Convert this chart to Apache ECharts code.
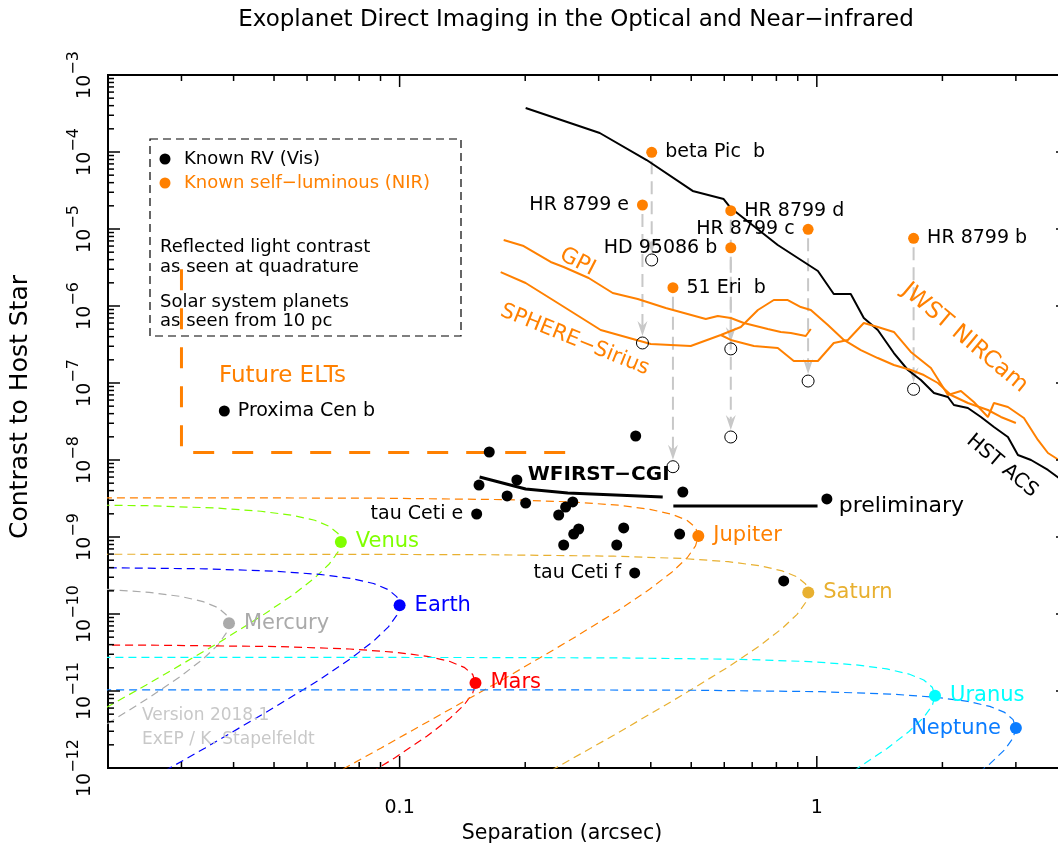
<!DOCTYPE html>
<html><head><meta charset="utf-8">
<script src="https://cdn.jsdelivr.net/npm/echarts@6/dist/echarts.min.js"></script>
<style>html,body{margin:0;padding:0;background:#fff;overflow:hidden}#c{width:1080px;height:852px}</style>
</head><body><div id="c"></div>
<script>
// ---------------- DATA ----------------
const xMajorTicks = [0.1, 1];
const yMajorTicks = [1e-12,1e-11,1e-10,1e-9,1e-8,1e-7,1e-6,1e-5,1e-4,1e-3];

// Known RV planets (reflected light, visible): [separation arcsec, contrast, name]
const knownRV = [
  [0.368,2.05e-8,''],[0.164,1.27e-8,''],[0.155,4.73e-9,''],[0.191,5.50e-9,''],
  [0.181,3.41e-9,''],[0.2005,2.76e-9,''],[0.153,1.99e-9,'tau Ceti e'],[0.260,2.85e-9,''],
  [0.250,2.45e-9,''],[0.2406,1.93e-9,''],[0.2687,1.27e-9,''],[0.2614,1.09e-9,''],
  [0.2473,7.87e-10,''],[0.3444,1.31e-9,''],[0.3315,7.87e-10,''],[0.4773,3.84e-9,''],
  [1.057,3.12e-9,''],[0.469,1.09e-9,''],[0.366,3.41e-10,'tau Ceti f'],[0.833,2.69e-10,''],
  [0.038,4.33e-8,'Proxima Cen b']
];

// Known self-luminous planets (NIR)
const selfLumNames = ['beta Pic  b','HR 8799 e','HR 8799 d','HR 8799 c','HD 95086 b','51 Eri  b','HR 8799 b'];
const selfLumSep   = [0.402, 0.382, 0.622, 0.953, 0.622, 0.452, 1.706];
const selfLumNIR   = [9.9e-5, 2.05e-5, 1.73e-5, 9.9e-6, 5.71e-6, 1.73e-6, 7.57e-6];
const selfLumRefl  = [3.96e-6, 3.31e-7, 2.77e-7, 1.06e-7, 1.99e-8, 8.18e-9, 8.28e-8];

// Solar system planets at quadrature, seen from 10 pc
const planetNames    = ['Mercury','Venus','Earth','Mars','Jupiter','Saturn','Uranus','Neptune'];
const planetSep      = [0.039, 0.0723, 0.1, 0.152, 0.52, 0.954, 1.92, 3.0];
const planetContrast = [7.6e-11, 8.6e-10, 1.3e-10, 1.27e-11, 1.03e-9, 1.9e-10, 8.7e-12, 3.3e-12];

// Orbital contrast tracks (separation, contrast)
const mercuryCurve = [[0.00677,2.35e-10],[0.0133,2.25e-10],[0.0195,2.10e-10],[0.0251,1.91e-10],[0.0299,1.69e-10],[0.0338,1.45e-10],[0.0367,1.21e-10],[0.0384,9.8e-11],[0.039,7.6e-11],[0.0384,5.64e-11],[0.0367,3.97e-11],[0.0338,2.60e-11],[0.0299,1.56e-11],[0.0251,8.2e-12],[0.0195,3.5e-12],[0.0133,1.06e-12]];
const venusCurve = [[0.01255,2.66e-9],[0.0247,2.55e-9],[0.0362,2.38e-9],[0.0465,2.16e-9],[0.0554,1.91e-9],[0.0626,1.65e-9],[0.0679,1.37e-9],[0.0712,1.11e-9],[0.0723,8.6e-10],[0.0712,6.4e-10],[0.0679,4.5e-10],[0.0626,2.94e-10],[0.0554,1.76e-10],[0.0465,9.3e-11],[0.0362,4.0e-11],[0.0247,1.2e-11],[0.01255,1.5e-12]];
const earthCurve = [[0.0174,4.02e-10],[0.0342,3.86e-10],[0.05,3.60e-10],[0.0643,3.27e-10],[0.0766,2.89e-10],[0.0866,2.49e-10],[0.094,2.07e-10],[0.0985,1.67e-10],[0.1,1.3e-10],[0.0985,9.65e-11],[0.094,6.8e-11],[0.0866,4.45e-11],[0.0766,2.67e-11],[0.0643,1.40e-11],[0.05,6.1e-12],[0.0342,1.82e-12],[0.0174,2.3e-13]];
const marsCurve = [[0.0133,3.97e-11],[0.0264,3.93e-11],[0.052,3.77e-11],[0.076,3.51e-11],[0.0977,3.19e-11],[0.1164,2.82e-11],[0.1316,2.43e-11],[0.1428,2.03e-11],[0.1497,1.64e-11],[0.152,1.27e-11],[0.1497,9.4e-12],[0.1428,6.6e-12],[0.1316,4.35e-12],[0.1164,2.6e-12],[0.0977,1.37e-12],[0.076,5.9e-13]];
const jupiterCurve = [[0.0182,3.23e-9],[0.0453,3.22e-9],[0.0903,3.19e-9],[0.178,3.06e-9],[0.26,2.85e-9],[0.334,2.59e-9],[0.398,2.29e-9],[0.450,1.97e-9],[0.489,1.64e-9],[0.512,1.33e-9],[0.52,1.03e-9],[0.512,7.65e-10],[0.489,5.38e-10],[0.450,3.52e-10],[0.398,2.11e-10],[0.334,1.11e-10],[0.26,4.8e-11],[0.178,1.44e-11],[0.0903,1.82e-12],[0.0453,2.3e-13]];
const saturnCurve = [[0.0167,5.97e-10],[0.0832,5.95e-10],[0.166,5.88e-10],[0.326,5.64e-10],[0.477,5.26e-10],[0.613,4.78e-10],[0.731,4.23e-10],[0.826,3.63e-10],[0.897,3.03e-10],[0.940,2.45e-10],[0.954,1.9e-10],[0.940,1.41e-10],[0.897,9.9e-11],[0.826,6.5e-11],[0.731,3.9e-11],[0.613,2.05e-11],[0.477,8.9e-12],[0.326,2.66e-12],[0.166,3.4e-13]];
const uranusCurve = [[0.0168,2.73e-11],[0.067,2.73e-11],[0.167,2.72e-11],[0.333,2.69e-11],[0.657,2.58e-11],[0.96,2.41e-11],[1.234,2.19e-11],[1.471,1.94e-11],[1.663,1.66e-11],[1.804,1.39e-11],[1.891,1.12e-11],[1.92,8.7e-12],[1.891,6.46e-12],[1.804,4.54e-12],[1.663,2.98e-12],[1.471,1.78e-12],[1.234,9.4e-13],[0.96,4.05e-13]];
const neptuneCurve = [[0.0157,1.037e-11],[0.105,1.036e-11],[0.262,1.033e-11],[0.521,1.022e-11],[1.026,9.79e-12],[1.5,9.13e-12],[1.928,8.30e-12],[2.298,7.34e-12],[2.598,6.31e-12],[2.819,5.27e-12],[2.954,4.25e-12],[3.0,3.3e-12],[2.954,2.45e-12],[2.819,1.72e-12],[2.598,1.13e-12],[2.298,6.8e-13]];
const planetCurves = [mercuryCurve, venusCurve, earthCurve, marsCurve, jupiterCurve, saturnCurve, uranusCurve, neptuneCurve];

// Instrument contrast curves
const hstACS = [[0.2005,3.73e-4],[0.3018,1.765e-4],[0.391,7.87e-5],[0.504,3.12e-5],[0.598,2.45e-5],[0.622,1.87e-5],[0.806,6.20e-6],[1.006,2.85e-6],[1.098,1.43e-6],[1.206,1.43e-6],[1.296,6.98e-7],[1.400,4.88e-7],[1.530,2.45e-7],[1.653,1.475e-7],[1.776,1.094e-7],[1.909,7.42e-8],[2.062,6.58e-8],[2.131,5.18e-8],[2.302,4.73e-8],[2.474,3.62e-8],[2.658,2.68e-8],[2.871,1.99e-8],[3.034,1.16e-8],[3.262,1.0e-8],[3.581,7.42e-9],[3.804,5.83e-9],[4.0,4.9e-9]];
const gpi = [[0.1776,7.20e-6],[0.1983,6.01e-6],[0.2302,3.73e-6],[0.2473,3.21e-6],[0.2839,2.31e-6],[0.3242,1.475e-6],[0.3722,1.233e-6],[0.4344,9.42e-7],[0.5418,6.78e-7],[0.5789,7.42e-7],[0.6219,6.98e-7],[0.6684,6.01e-7],[0.7630,5.03e-7],[0.8196,4.60e-7],[0.8664,4.46e-7],[0.9410,4.08e-7],[0.9674,5.03e-7]];
const sphereSirius = [[0.1747,2.76e-6],[0.2005,1.99e-6],[0.2393,1.094e-6],[0.3034,4.88e-7],[0.3999,3.21e-7],[0.4986,3.02e-7],[0.5886,4.20e-7],[0.6574,5.34e-7],[0.7224,8.87e-7],[0.7887,1.196e-6],[0.8520,1.196e-6],[0.9155,9.70e-7],[0.9674,8.87e-7],[1.063,5.66e-7],[1.161,3.62e-7],[1.275,2.68e-7],[1.400,2.11e-7],[1.530,1.713e-7],[1.680,1.475e-7],[1.805,1.27e-7],[1.951,1.0e-7],[2.096,6.98e-8],[2.302,5.50e-8],[2.571,4.46e-8],[2.762,3.62e-8],[3.000,3.02e-8]];
const jwstNIRCam = [[0.5886,4.20e-7],[0.6219,3.62e-7],[0.7065,3.02e-7],[0.8062,2.85e-7],[0.8806,1.93e-7],[1.006,1.93e-7],[1.098,3.31e-7],[1.187,3.62e-7],[1.296,6.01e-7],[1.400,5.34e-7],[1.530,4.60e-7],[1.680,2.53e-7],[1.877,1.566e-7],[2.062,6.98e-8],[2.215,7.87e-8],[2.379,5.66e-8],[2.571,3.62e-8],[2.658,5.50e-8],[2.871,4.88e-8],[3.136,3.51e-8],[3.388,1.82e-8],[3.581,1.233e-8],[3.804,1.0e-8],[4.02,8.36e-9]];
const wfirstCGI = [[0.1555,6.01e-9],[0.2005,4.20e-9],[0.2529,3.73e-9],[0.4272,3.31e-9]];
const wfirstPrelim = [[0.453,2.53e-9],[1.004,2.53e-9]];
const futureELT = [[0.03,3e-6],[0.03,1.25e-8],[0.25,1.25e-8]];

// Text annotations anchored in data coordinates
const annotations = [
  {text:'GPI', at:[0.267,3.73e-6]},
  {text:'SPHERE−Sirius', at:[0.263,3.62e-7]},
  {text:'JWST NIRCam', at:[2.26,3.84e-7]},
  {text:'HST ACS', at:[2.78,8.36e-9]},
  {text:'WFIRST−CGI', at:[0.300,6.38e-9]},
  {text:'Future ELTs', at:[0.0524,1.23e-7]},
  {text:'preliminary', at:[1.129,2.53e-9]}
];

// ---------------- STYLE ----------------
const FONT = 'DejaVu Sans';
const ORANGE = '#ff8000';
const planetColors = ['#aaaaaa','#80ff00','#0000ff','#ff0000','#ff8000','#e8b030','#00ffff','#0a7cff'];
const planetLabelSide = {Neptune:'left'};
const selfLumLabelSide = {'HR 8799 e':'left','HR 8799 c':'left','HD 95086 b':'left'};
const annStyle = {
  'GPI':{rotate:-27,color:ORANGE,fontSize:22},
  'SPHERE−Sirius':{rotate:-22,color:ORANGE,fontSize:21},
  'JWST NIRCam':{rotate:-40,color:ORANGE,fontSize:23},
  'HST ACS':{rotate:-40,color:'#000',fontSize:20},
  'WFIRST−CGI':{rotate:0,color:'#000',fontSize:20,fontWeight:'bold'},
  'Future ELTs':{rotate:0,color:ORANGE,fontSize:23},
  'preliminary':{rotate:0,color:'#000',fontSize:22,align:'left'}
};

// minor ticks (2..9 x decade)
const xMinorTicks = [], yMinorTicks = [];
[0.01,0.1,1].forEach(d=>{for(let k=2;k<=9;k++){const v=+(k*d).toPrecision(3); if(v>0.02&&v<4) xMinorTicks.push(v);}});
yMajorTicks.slice(0,-1).forEach(d=>{for(let k=2;k<=9;k++) yMinorTicks.push(+(k*d).toPrecision(3));});

const chart = echarts.init(document.getElementById('c'), null, {renderer:'canvas'});

function lineSeries(data, color, width, dash, z){
  return {type:'line', data, showSymbol:false, symbol:'none', silent:true, clip:true,
    lineStyle:{color, width, type: dash || 'solid'}, z: z||3, animation:false};
}
const noBorder = {textBorderWidth:0, textBorderColor:'transparent', textShadowBlur:0};

const series = [];
planetCurves.forEach((c,i)=>series.push(lineSeries(c, planetColors[i], 1.2, [8,5], 1)));
series.push(lineSeries(futureELT, ORANGE, 3, [21,18], 2));
series.push(lineSeries(hstACS, '#000', 2, 'solid', 3));
series.push(lineSeries(gpi, ORANGE, 2, 'solid', 3));
series.push(lineSeries(sphereSirius, ORANGE, 2, 'solid', 3));
series.push(lineSeries(jwstNIRCam, ORANGE, 2, 'solid', 3));
series.push(lineSeries(wfirstCGI, '#000', 3, 'solid', 4));
series.push(lineSeries(wfirstPrelim, '#000', 3, 'solid', 4));

// gray arrows from NIR contrast to reflected-light contrast
series.push({
  type:'custom', z:2, silent:true, clip:true, animation:false,
  data: selfLumSep.map((s,i)=>[s, selfLumNIR[i], selfLumRefl[i]]),
  encode:{x:0,y:1},
  renderItem(params, api){
    const p1 = api.coord([api.value(0), api.value(1)]);
    const p2 = api.coord([api.value(0), api.value(2)]);
    const x = p1[0], tip = p2[1]-7;
    return {type:'group', children:[
      {type:'line', shape:{x1:x,y1:p1[1]+9,x2:x,y2:tip-10}, style:{stroke:'#c8c8c8',lineWidth:2,lineDash:[13,7]}},
      {type:'polygon', shape:{points:[[x-5,tip-15],[x,tip-10],[x+5,tip-15],[x,tip]]}, style:{fill:'#c8c8c8'}}
    ]};
  }
});

// open circles (reflected light equivalents)
series.push({type:'scatter', z:5, silent:true, animation:false, symbol:'circle', symbolSize:12,
  data: selfLumSep.map((s,i)=>[s, selfLumRefl[i]]),
  itemStyle:{color:'rgba(255,255,255,0)', borderColor:'#000', borderWidth:1, opacity:1}});

// known RV
series.push({type:'scatter', z:6, silent:true, animation:false, symbolSize:11,
  itemStyle:{color:'#000', opacity:1},
  data: knownRV.map(d=>({value:[d[0],d[1]], label:{show:!!d[2], formatter:d[2], position: d[2]==='Proxima Cen b'?'right':'left'}})),
  label:Object.assign({distance:8, color:'#000', fontSize:19, fontFamily:FONT}, noBorder)});

// self-luminous
series.push({type:'scatter', z:6, silent:true, animation:false, symbolSize:11,
  itemStyle:{color:ORANGE, opacity:1},
  data: selfLumSep.map((s,i)=>({value:[s, selfLumNIR[i]], label:{show:true, formatter:selfLumNames[i], position: selfLumLabelSide[selfLumNames[i]]||'right'}})),
  label:Object.assign({distance:8, color:'#000', fontSize:19, fontFamily:FONT}, noBorder)});

// planets
series.push({type:'scatter', z:6, silent:true, animation:false, symbolSize:12,
  data: planetSep.map((s,i)=>({value:[s, planetContrast[i]], itemStyle:{color:planetColors[i], opacity:1},
    label:{show:true, formatter:planetNames[i], color:planetColors[i], position: planetLabelSide[planetNames[i]]||'right'}})),
  label:Object.assign({distance:9, fontSize:21, fontFamily:FONT}, noBorder)});

// annotations
series.push({type:'scatter', z:7, silent:true, animation:false, symbolSize:0,
  itemStyle:{color:'rgba(0,0,0,0)', opacity:1},
  data: annotations.map(a=>{const st=annStyle[a.text]; return {value:a.at, label:Object.assign({show:true, position:'inside', formatter:a.text,
    rotate:st.rotate, color:st.color, fontSize:st.fontSize, fontWeight:st.fontWeight||'normal', align:st.align||'center', verticalAlign:'middle', fontFamily:FONT}, noBorder)};})});

// axis ticks on all four sides
function tickSeries(vals, isX, len){
  return {type:'custom', z:8, silent:true, clip:false, animation:false,
    data: vals.map(v=> isX ? [v, 1e-6] : [1, v]),
    encode:{x:0,y:1},
    renderItem(params, api){
      const cs = params.coordSys;
      const p = api.coord([api.value(0), api.value(1)]);
      const st = {stroke:'#000', lineWidth:1.5};
      if(isX){
        const yb = cs.y+cs.height, yt = cs.y;
        return {type:'group', children:[
          {type:'line', shape:{x1:p[0],y1:yb,x2:p[0],y2:yb-len}, style:st},
          {type:'line', shape:{x1:p[0],y1:yt,x2:p[0],y2:yt+len}, style:st}]};
      } else {
        const xl = cs.x, xr = cs.x+cs.width;
        return {type:'group', children:[
          {type:'line', shape:{x1:xl,y1:p[1],x2:xl+len,y2:p[1]}, style:st},
          {type:'line', shape:{x1:xr,y1:p[1],x2:xr-len,y2:p[1]}, style:st}]};
      }
    }};
}
series.push(tickSeries(xMajorTicks, true, 12));
series.push(tickSeries(xMinorTicks, true, 6));
series.push(tickSeries(yMajorTicks.slice(1,-1), false, 12));
series.push(tickSeries(yMinorTicks, false, 6));

function isPow10(v){const l=Math.log10(v); return Math.abs(l-Math.round(l))<1e-6;}

const option = {
  animation:false,
  backgroundColor:'#fff',
  grid:{left:108, top:75, width:960, height:693, show:true, borderColor:'#000', borderWidth:2, backgroundColor:'transparent'},
  xAxis:{type:'log', logBase:10, min:0.02, max:4,
    axisLine:{show:false}, axisTick:{show:false}, splitLine:{show:false}, minorTick:{show:false},
    axisLabel:{margin:31, fontSize:19, fontFamily:FONT, color:'#000',
      formatter:v=> (isPow10(v) && xMajorTicks.some(t=>Math.abs(t-v)/t<1e-6)) ? String(+v.toPrecision(3)) : ''}},
  yAxis:{type:'log', logBase:10, min:1e-12, max:1e-3, splitNumber:9,
    axisLine:{show:false}, axisTick:{show:false}, splitLine:{show:false},
    axisLabel:{rotate:90, margin:4, color:'#000',
      formatter:v=>{ if(!isPow10(v)) return ''; const e=Math.round(Math.log10(v)); return '{b|10}{s|−'+(-e)+'}'; },
      rich:{b:{fontSize:19, fontFamily:FONT, color:'#000'}, s:{fontSize:16, fontFamily:FONT, color:'#000', padding:[0,0,22,0]}}}},
  series,
  graphic:[
    {type:'text', x:576, y:20, style:{text:'Exoplanet Direct Imaging in the Optical and Near−infrared', font:'23px "DejaVu Sans"', fill:'#000', align:'center', verticalAlign:'middle'}},
    {type:'text', x:562, y:834, style:{text:'Separation (arcsec)', font:'20.5px "DejaVu Sans"', fill:'#000', align:'center', verticalAlign:'middle'}},
    {type:'text', x:20, y:407, rotation:Math.PI/2, style:{text:'Contrast to Host Star', font:'25px "DejaVu Sans"', fill:'#000', align:'center', verticalAlign:'middle'}},
    {type:'rect', shape:{x:150, y:139, width:311, height:197}, style:{fill:'none', stroke:'#000', lineWidth:1.2, lineDash:[8,5]}, z:10},
    {type:'circle', shape:{cx:165, cy:159, r:5.5}, style:{fill:'#000'}, z:10},
    {type:'text', x:184, y:159, style:{text:'Known RV (Vis)', font:'18px "DejaVu Sans"', fill:'#000', verticalAlign:'middle'}, z:10},
    {type:'circle', shape:{cx:165, cy:183, r:5.5}, style:{fill:ORANGE}, z:10},
    {type:'text', x:184, y:183, style:{text:'Known self−luminous (NIR)', font:'18px "DejaVu Sans"', fill:ORANGE, verticalAlign:'middle'}, z:10},
    {type:'text', x:160, y:247, style:{text:'Reflected light contrast', font:'18px "DejaVu Sans"', fill:'#000', verticalAlign:'middle'}, z:10},
    {type:'text', x:160, y:267, style:{text:'as seen at quadrature', font:'18px "DejaVu Sans"', fill:'#000', verticalAlign:'middle'}, z:10},
    {type:'text', x:160, y:302, style:{text:'Solar system planets', font:'18px "DejaVu Sans"', fill:'#000', verticalAlign:'middle'}, z:10},
    {type:'text', x:160, y:321, style:{text:'as seen from 10 pc', font:'18px "DejaVu Sans"', fill:'#000', verticalAlign:'middle'}, z:10},
    {type:'text', x:142, y:716, style:{text:'Version 2018.1', font:'17px "DejaVu Sans"', fill:'#c8c8c8', verticalAlign:'middle'}, z:10},
    {type:'text', x:142, y:740, style:{text:'ExEP / K. Stapelfeldt', font:'17px "DejaVu Sans"', fill:'#c8c8c8', verticalAlign:'middle'}, z:10}
  ]
};
chart.setOption(option);
</script></body></html>
